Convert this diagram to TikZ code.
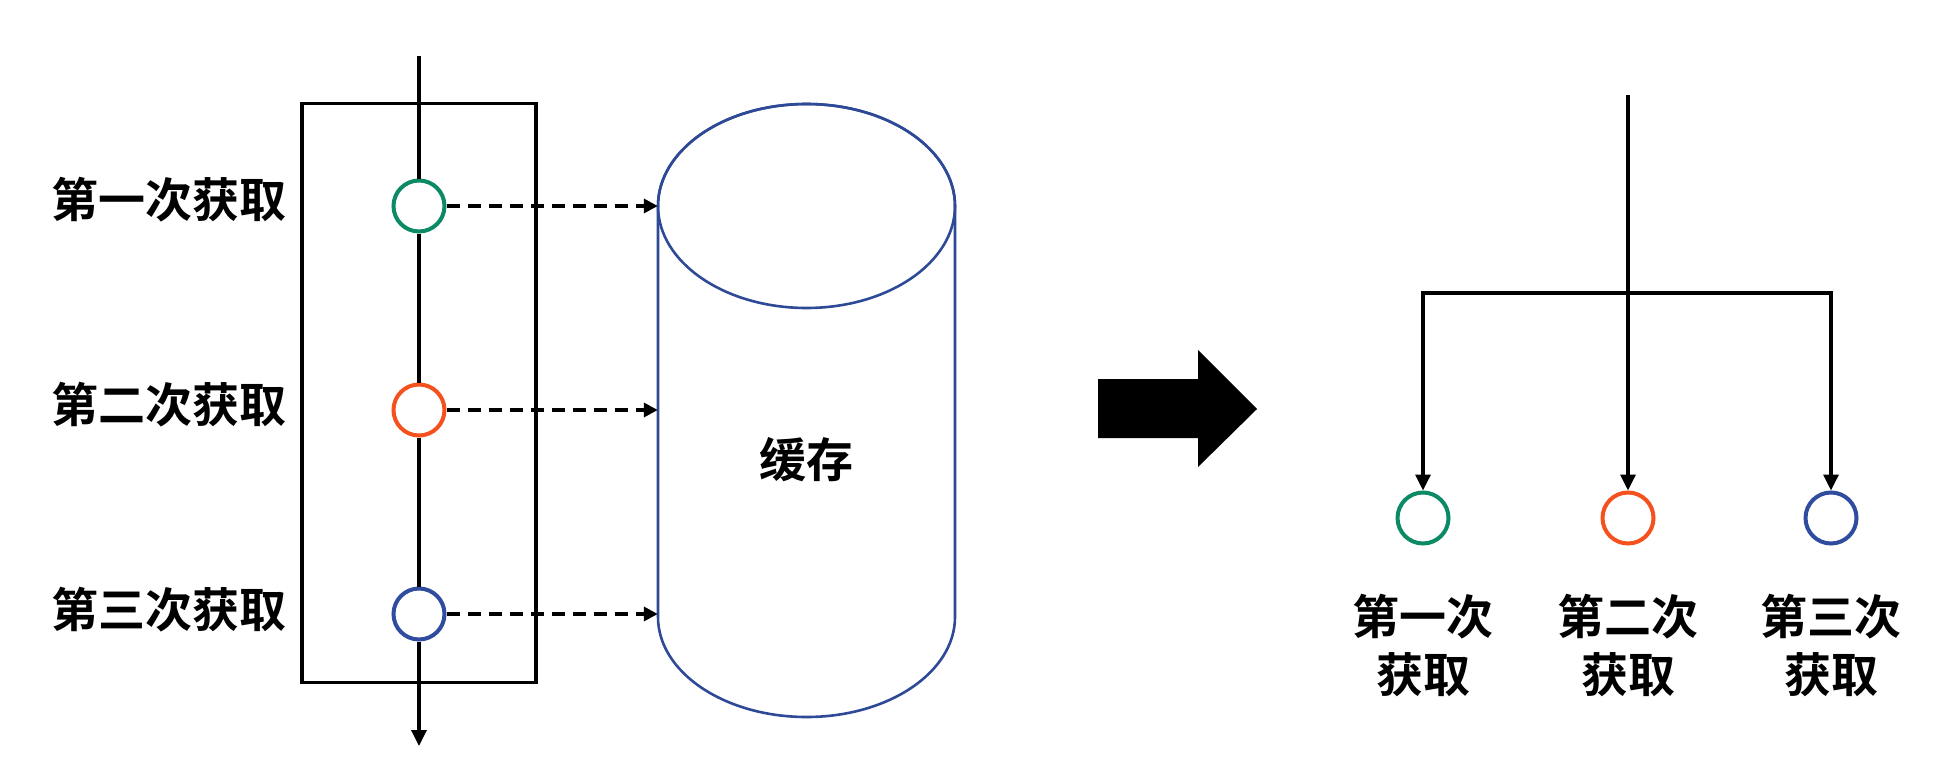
\documentclass[tikz,border=0pt]{standalone}
\usepackage{fontspec}
\newfontfamily\cjk{Noto Sans CJK SC}[BoldFont={* Bold}]
\usetikzlibrary{arrows.meta}
\definecolor{cgreen}{HTML}{0B8A65}
\definecolor{corange}{HTML}{F4511E}
\definecolor{cblue}{HTML}{2F4C9E}
\definecolor{cylblue}{HTML}{2E4A96}
\tikzset{
  dot/.style={circle,draw=#1,line width=4pt,fill=white,minimum size=51pt,inner sep=0pt},
  lbl/.style={font=\cjk\bfseries\fontsize{47pt}{58pt}\selectfont,inner sep=0pt,align=center},
  solidline/.style={line width=3.4pt,black},
  arr/.style={solidline,-{Triangle[length=16pt,width=15pt]}},
  dasharr/.style={line width=3.4pt,black,dash pattern=on 13pt off 8pt,-{Triangle[length=14pt,width=14pt]}},
}
\begin{document}
\begin{tikzpicture}[x=1pt,y=-1pt]
\useasboundingbox (0,0) rectangle (1949,768);
% left frame
\node[draw,line width=3.4pt,minimum width=234pt,minimum height=579pt,inner sep=0pt] (frame) at (419,393) {};
% cylinder
\node[minimum width=297pt,minimum height=614pt,inner sep=0pt] (cache) at (806.5,410) {};
\draw[cylblue,line width=2.6pt,fill=white] (658,206) -- (658,617)
  arc[start angle=180,end angle=360,x radius=148.5pt,y radius=100pt] -- (955,206)
  arc[start angle=0,end angle=180,x radius=148.5pt,y radius=102pt] -- cycle;
\draw[cylblue,line width=2.6pt] (806.5,206) ellipse[x radius=148.5pt,y radius=102pt];
\node[lbl] (cachetxt) at (806,460) {缓存};
% left timeline
\coordinate (ltop) at (419,56);
\coordinate (lbot) at (419,746);
\node[dot=cgreen] (c1) at (419,206) {};
\node[dot=corange] (c2) at (419,410) {};
\node[dot=cblue] (c3) at (419,614) {};
\draw[solidline] (ltop) -- (c1);
\draw[solidline] (c1) -- (c2);
\draw[solidline] (c2) -- (c3);
\draw[arr] (c3) -- (lbot);
\node[lbl] (l1) at (169,200) {第一次获取};
\node[lbl] (l2) at (169,405) {第二次获取};
\node[lbl] (l3) at (169,610) {第三次获取};
\draw[dasharr] (c1) -- (c1 -| cache.west);
\draw[dasharr] (c2) -- (c2 -| cache.west);
\draw[dasharr] (c3) -- (c3 -| cache.west);
% big arrow
\fill[black] (1098,379) -- (1198,379) -- (1198,350) -- (1257,409) -- (1198,467) -- (1198,438) -- (1098,438) -- cycle;
% right tree
\coordinate (rtop) at (1628,95);
\coordinate (rj) at (1628,293);
\node[dot=cgreen] (d1) at (1423,518) {};
\node[dot=corange] (d2) at (1628,518) {};
\node[dot=cblue] (d3) at (1831,518) {};
\draw[arr] (rtop) -- (d2);
\draw[arr] (rj) -| (d1);
\draw[arr] (rj) -| (d3);
\node[lbl] (e1) at (1423,645) {第一次\\获取};
\node[lbl] (e2) at (1628,645) {第二次\\获取};
\node[lbl] (e3) at (1831,645) {第三次\\获取};
\end{tikzpicture}
\end{document}
